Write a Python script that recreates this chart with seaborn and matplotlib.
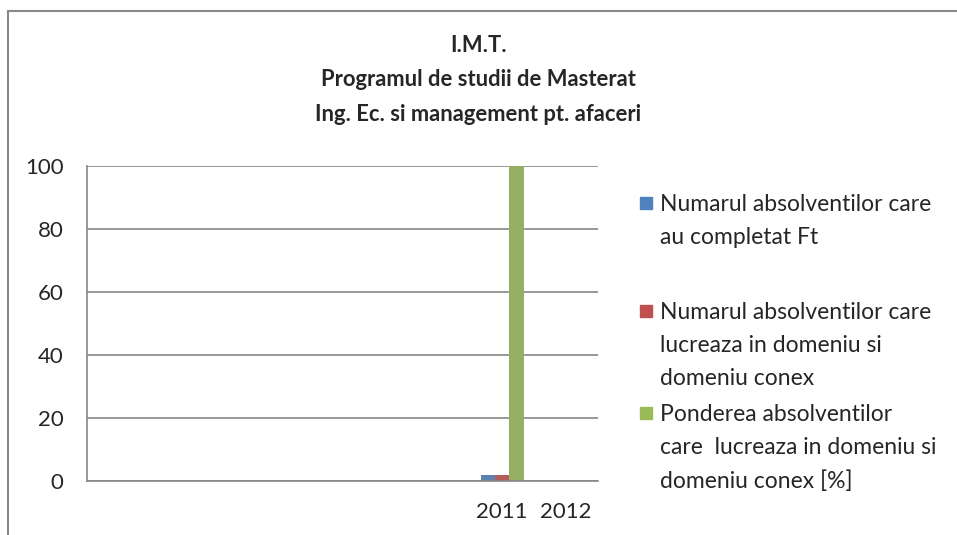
import pandas as pd
import seaborn as sns
import matplotlib.pyplot as plt
from matplotlib.patches import Rectangle

# categories on the x axis (first six slots carry no label in the original)
categories = ['c1', 'c2', 'c3', 'c4', 'c5', 'c6', '2011', '2012']
tick_labels = ['', '', '', '', '', '', '2011', '2012']
years = ['2011', '2012']
series = ['Numarul absolventilor care\nau completat Ft',
          'Numarul absolventilor care\nlucreaza in domeniu si\ndomeniu conex',
          'Ponderea absolventilor\ncare  lucreaza in domeniu si\ndomeniu conex [%]']
completat_ft = [2, 0]
lucreaza = [2, 0]
ponderea = [100, 0]
colors = ['#4F81BD', '#C0504D', '#9BBB59']
y_ticks = [0, 20, 40, 60, 80, 100]

sns.set_style('white')
plt.rcParams['font.family'] = ['Lato', 'DejaVu Sans']

rows = []
for name, vals in zip(series, [completat_ft, lucreaza, ponderea]):
    for yr, v in zip(years, vals):
        rows.append({'An': yr, 'Serie': name, 'Valoare': v})
df = pd.DataFrame(rows)

fig = plt.figure(figsize=(9.57, 5.35), dpi=100)
ax = fig.add_axes([0.0909, 0.1009, 0.5340, 0.5888])
sns.barplot(data=df, x='An', y='Valoare', hue='Serie', order=categories,
            hue_order=series, palette=colors, width=0.67, gap=0,
            linewidth=0, errorbar=None, legend=False, ax=ax)

ax.set_ylim(0, 100)
ax.set_xlim(-0.5, len(categories) - 0.5)
ax.set_yticks(y_ticks)
ax.set_xticks(range(len(categories)))
ax.set_xticklabels(tick_labels)
ax.yaxis.grid(True, color='#868686', linewidth=1.2)
ax.set_axisbelow(True)
ax.tick_params(axis='both', length=0, labelsize=16)
ax.tick_params(axis='y', pad=17)
ax.tick_params(axis='x', pad=15)
ax.set_xlabel('')
ax.set_ylabel('')
for side in ['top', 'right']:
    ax.spines[side].set_visible(False)
for side in ['left', 'bottom']:
    ax.spines[side].set_color('#868686')
    ax.spines[side].set_linewidth(1.2)

fig.text(0.5, 0.851, 'I.M.T.\nProgramul de studii de Masterat\n'
         'Ing. Ec. si management pt. afaceri',
         ha='center', va='center', fontsize=15.8, fontweight='bold',
         linespacing=1.8)

# legend laid out like the Excel original: swatch next to the first line
legend_tops = [203, 311, 413]
for name, col, ytop in zip(series, colors, legend_tops):
    fig.patches.append(Rectangle((640 / 957, 1 - (ytop + 6) / 535),
                                 12 / 957, 12 / 535, color=col,
                                 transform=fig.transFigure))
    fig.text(660 / 957, 1 - (ytop - 9) / 535, name, ha='left', va='top',
             fontsize=16.5, linespacing=1.7)

# chart area border
fig.patches.append(Rectangle((8 / 957, -0.1), 1.2, 1 - 11 / 535 + 0.1,
                             fill=False, edgecolor='#888888', linewidth=1.5,
                             transform=fig.transFigure))

fig.savefig('out.png', dpi=100)
